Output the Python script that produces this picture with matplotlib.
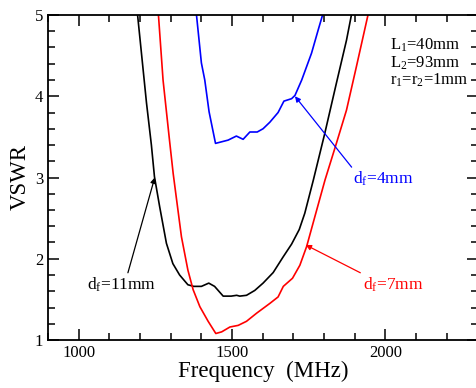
import matplotlib
matplotlib.use("Agg")
import matplotlib.pyplot as plt
from matplotlib.ticker import MultipleLocator

plt.rcParams['font.family'] = ['Liberation Serif', 'DejaVu Serif']
plt.rcParams['mathtext.fontset'] = 'custom'
plt.rcParams['mathtext.rm'] = 'Liberation Serif'
plt.rcParams['mathtext.it'] = 'Liberation Serif:italic'

# d_f = 11 mm (black)
f11 = [1185, 1192, 1221, 1237, 1247, 1264, 1286, 1307, 1329, 1356, 1375, 1400, 1424, 1443,
       1471, 1497, 1515, 1525, 1547, 1574, 1601, 1634, 1666, 1694, 1719, 1737, 1765, 1802,
       1840, 1873, 1889, 1900]
v11 = [5.25, 5.0, 3.92, 3.40, 3.01, 2.64, 2.19, 1.94, 1.80, 1.68, 1.66, 1.66, 1.70, 1.66,
       1.54, 1.54, 1.55, 1.54, 1.55, 1.61, 1.70, 1.83, 2.02, 2.18, 2.36, 2.56, 2.97, 3.54,
       4.16, 4.69, 5.0, 5.2]

# d_f = 7 mm (red)
f7 = [1255, 1260, 1275, 1296, 1308, 1318, 1335, 1356, 1373, 1395, 1422, 1447, 1466, 1493,
      1520, 1547, 1580, 1623, 1650, 1667, 1697, 1721, 1743, 1770, 1803, 1840, 1873, 1905,
      1943, 1955]
v7 = [5.2, 5.0, 4.2, 3.46, 3.05, 2.76, 2.27, 1.86, 1.62, 1.41, 1.23, 1.08, 1.10, 1.16,
      1.18, 1.23, 1.33, 1.45, 1.53, 1.66, 1.76, 1.92, 2.15, 2.52, 2.97, 3.42, 3.83, 4.36,
      5.0, 5.2]

# d_f = 4 mm (blue)
f4 = [1380, 1384, 1400, 1411, 1425, 1446, 1487, 1514, 1536, 1558, 1582, 1601, 1623, 1650,
      1669, 1694, 1705, 1727, 1759, 1781, 1795, 1800]
v4 = [5.15, 5.0, 4.41, 4.20, 3.81, 3.42, 3.46, 3.51, 3.47, 3.56, 3.56, 3.60, 3.68, 3.80,
      3.94, 3.97, 4.01, 4.20, 4.53, 4.82, 5.0, 5.1]

xticks = [1000, 1500, 2000]
yticks = [1, 2, 3, 4, 5]
params_text = "L$_1$=40mm\nL$_2$=93mm\nr$_1$=r$_2$=1mm"

fig = plt.figure(figsize=(4.76, 3.88), dpi=100)
ax = fig.add_axes([48/476, 48/388, 429.5/476, 325/388])

ax.plot(f11, v11, color='black', lw=1.2)
ax.plot(f7, v7, color='red', lw=1.2)
ax.plot(f4, v4, color='blue', lw=1.2)

ax.set_xlim(900, 2300)
ax.set_ylim(1, 5)
ax.set_xticks(xticks)
ax.set_yticks(yticks)
ax.xaxis.set_minor_locator(MultipleLocator(100))
ax.yaxis.set_minor_locator(MultipleLocator(0.2))
ax.tick_params(which='both', direction='in', top=True, right=True, width=1.1)
ax.tick_params(which='major', length=8, labelsize=12)
ax.tick_params(which='minor', length=5)
for s in ax.spines.values():
    s.set_linewidth(1.3)

ax.set_xlabel('Frequency  (MHz)', fontsize=16.5, labelpad=0)
ax.set_ylabel('VSWR', fontsize=16.5, labelpad=3)

ax.text(2016, 4.73, params_text, fontsize=12, va='top', ha='left', linespacing=1.0)

ax.annotate('d$_\\mathrm{f}$=4mm', xy=(1705, 4.0), xytext=(1893, 2.98),
            color='blue', fontsize=12.5, va='center', ha='left',
            arrowprops=dict(arrowstyle='-|>', color='blue', lw=0.9,
                            shrinkA=0, shrinkB=0, mutation_scale=8,
                            relpos=(0.02, 1.0)))
ax.annotate('d$_\\mathrm{f}$=7mm', xy=(1740, 2.17), xytext=(1926, 1.68),
            color='red', fontsize=12.5, va='center', ha='left',
            arrowprops=dict(arrowstyle='-|>', color='red', lw=0.9,
                            shrinkA=0, shrinkB=0, mutation_scale=8,
                            relpos=(0.05, 1.0)))
ax.annotate('d$_\\mathrm{f}$=11mm', xy=(1248, 3.0), xytext=(1027, 1.68),
            color='black', fontsize=12.5, va='center', ha='left',
            arrowprops=dict(arrowstyle='-|>', color='black', lw=0.9,
                            shrinkA=0, shrinkB=0, mutation_scale=8,
                            relpos=(0.58, 1.0)))

fig.savefig('out.png', dpi=100)
